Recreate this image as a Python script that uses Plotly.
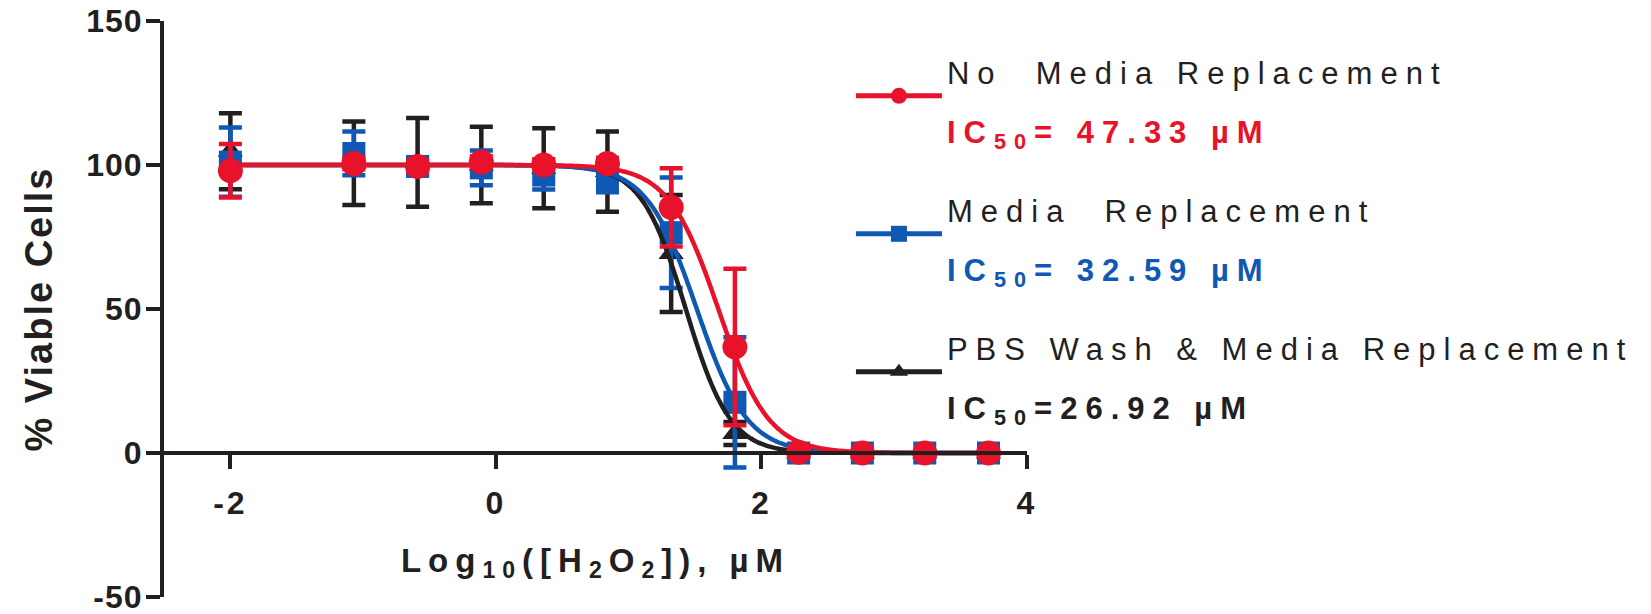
import numpy as np
import plotly.graph_objects as go

# ---------------- data ----------------
log_conc = [-2.0, -1.07, -0.59, -0.11, 0.36, 0.84, 1.32, 1.80, 2.28, 2.76, 3.23, 3.71]

no_media_mean = [98.0, 100.5, 99.5, 101.0, 100.0, 100.5, 85.3, 36.8, 0.3, 0.0, 0.0, 0.0]
no_media_err = [9.3, 2.0, 2.0, 2.0, 2.0, 2.0, 13.6, 27.2, 1.0, 0.5, 0.5, 0.5]

media_mean = [101.0, 104.0, 99.5, 99.0, 96.5, 94.5, 76.5, 17.6, 0.0, 0.0, 0.0, 0.0]
media_err = [12.0, 7.6, 3.0, 6.0, 5.0, 4.0, 19.2, 22.6, 1.0, 0.5, 0.5, 0.5]

pbs_mean = [104.8, 100.6, 100.9, 100.0, 98.9, 97.7, 69.3, 6.8, 0.0, 0.0, 0.0, 0.0]
pbs_err = [13.2, 14.5, 15.4, 13.3, 13.9, 13.9, 20.3, 4.0, 0.5, 0.5, 0.5, 0.5]

series_names = ["No  Media Replacement", "Media  Replacement", "PBS Wash & Media Replacement"]
ic50_labels = ["IC<sub>50</sub>= 47.33 µM", "IC<sub>50</sub>= 32.59 µM", "IC<sub>50</sub>=26.92 µM"]
ic50_uM = [47.33, 32.59, 26.92]          # fitted IC50 values shown in the legend
hill_slopes = [2.3, 2.3, 2.6]            # steepness of the fitted curves
fit_top, fit_bottom = 100.0, 0.0

x_ticks = [-2, 0, 2, 4]
x_tick_labels = ["-2", "0", "2", "4"]
y_ticks = [-50, 0, 50, 100, 150]
y_tick_labels = ["-50", "0", "50", "100", "150"]

RED = "#E8132B"
BLUE = "#0F58B4"
BLACK = "#231F20"
FONT = "Liberation Sans, Arial, sans-serif"


def fit_curve(ic50, hill):
    xs = np.linspace(min(log_conc), max(log_conc), 400)
    ys = fit_bottom + (fit_top - fit_bottom) / (1.0 + 10 ** ((xs - np.log10(ic50)) * hill))
    return xs, ys


def point_trace(mean, err, color, symbol, size):
    return go.Scatter(
        x=log_conc, y=mean, mode="markers", showlegend=False, hoverinfo="skip",
        marker=dict(symbol=symbol, size=size, color=color, line=dict(width=0)),
        error_y=dict(type="data", array=err, visible=True, color=color,
                     thickness=4.5, width=11.5),
    )


def curve_trace(ic50, hill, color):
    xs, ys = fit_curve(ic50, hill)
    return go.Scatter(x=xs, y=ys, mode="lines", showlegend=False, hoverinfo="skip",
                      line=dict(color=color, width=4.5, shape="spline"))


fig = go.Figure()
# drawing order: black (bottom), blue, red (top)
fig.add_trace(point_trace(pbs_mean, pbs_err, BLACK, "triangle-up", 22))
fig.add_trace(point_trace(media_mean, media_err, BLUE, "square", 23))
fig.add_trace(curve_trace(ic50_uM[2], hill_slopes[2], BLACK))
fig.add_trace(curve_trace(ic50_uM[1], hill_slopes[1], BLUE))
fig.add_trace(curve_trace(ic50_uM[0], hill_slopes[0], RED))
fig.add_trace(point_trace(no_media_mean, no_media_err, RED, "circle", 25))

# legend-only entries (line + marker symbol, two-line label)
legend_styles = [(RED, "circle", RED), (BLUE, "square", BLUE), (BLACK, "triangle-up", BLACK)]
for i, (name, ic_lab, (col, sym, tcol)) in enumerate(zip(series_names, ic50_labels, legend_styles)):
    label = (f"<span style='font-size:31px'>{name}</span><br>"
             f"<span style='font-size:31px;color:{tcol}'><b>{ic_lab}</b></span>")
    fig.add_trace(go.Scatter(
        x=[None], y=[None], mode="lines+markers", name=label, legendgroup=f"g{i}",
        legendrank=i + 1,
        line=dict(color=col, width=5), marker=dict(symbol=sym, size=22, color=col),
    ))

fig.update_layout(
    width=1651, height=614,
    margin=dict(l=164, r=624, t=21, b=17, autoexpand=False),
    paper_bgcolor="white", plot_bgcolor="white",
    font=dict(family=FONT, color=BLACK),
    showlegend=True,
    legend=dict(
        x=0.796, y=0.983, xanchor="left", yanchor="top",
        font=dict(family=FONT, size=45, color=BLACK),
        itemwidth=86, tracegroupgap=18, valign="middle",
        traceorder="grouped", bgcolor="rgba(0,0,0,0)", itemsizing="trace",
    ),
    xaxis=dict(
        range=[-2.5, 4], tickmode="array", tickvals=x_ticks, ticktext=x_tick_labels,
        showline=True, linewidth=4, linecolor=BLACK,
        ticks="outside", ticklen=14, tickwidth=4, tickcolor=BLACK,
        tickfont=dict(family=FONT, size=32, color=BLACK, weight="bold"),
        ticklabelstandoff=7, ticklabeloverflow="allow",
        anchor="free", position=0.25,
        showgrid=False, zeroline=False,
        title=dict(text="Log<sub>10</sub>([H<sub>2</sub>O<sub>2</sub>]), µM",
                   font=dict(family=FONT, size=33, color=BLACK, weight="bold"),
                   standoff=27),
    ),
    yaxis=dict(
        range=[-50, 150], tickmode="array", tickvals=y_ticks, ticktext=y_tick_labels,
        showline=True, linewidth=4, linecolor=BLACK,
        ticks="outside", ticklen=14, tickwidth=4, tickcolor=BLACK,
        tickfont=dict(family=FONT, size=32, color=BLACK, weight="bold"),
        ticklabelstandoff=-3, ticklabeloverflow="allow",
        showgrid=False, zeroline=False,
        title=dict(text="% Viable Cells",
                   font=dict(family=FONT, size=38, color=BLACK, weight="bold"),
                   standoff=26),
    ),
)

css = (".legendtext{letter-spacing:8px}"
       ".legend .scrollbox{clip-path:none !important}"
       ".xtick text{letter-spacing:3px}"
       ".ytick text{letter-spacing:1px}"
       ".xtitle{letter-spacing:7px}"
       ".ytitle{letter-spacing:2px}")
post = ("var s=document.createElement('style');s.textContent=" + repr(css) +
        ";document.head.appendChild(s);")

fig.write_html("out.html", config={"displayModeBar": False}, post_script=post)
